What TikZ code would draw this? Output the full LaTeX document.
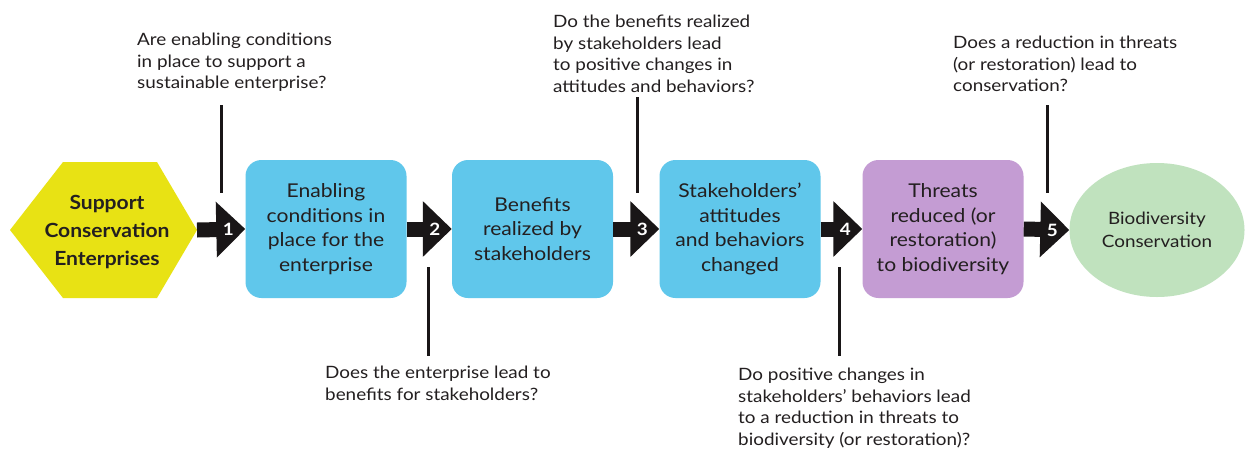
\documentclass[tikz,border=0pt]{standalone}
\usepackage{fontspec}
\setmainfont{Lato}[FakeStretch=1.11]
\newfontfamily\hexfont{Lato}[FakeStretch=1.08]
\usetikzlibrary{arrows.meta,shapes.geometric}
\definecolor{hexyellow}{RGB}{232,226,20}
\definecolor{boxblue}{RGB}{96,199,235}
\definecolor{boxpurple}{RGB}{196,156,211}
\definecolor{ellgreen}{RGB}{192,226,190}
\definecolor{txt}{RGB}{35,31,32}
\definecolor{arrowblack}{RGB}{25,22,23}
\tikzset{
  stagebox/.style={rectangle, rounded corners=16pt, minimum width=161pt, minimum height=138pt,
    align=center, inner sep=0pt, text=txt, font=\fontsize{19}{24.5}\selectfont},
  question/.style={anchor=north west, align=left, inner sep=0pt, text=txt,
    font=\fontsize{17}{21.8}\selectfont},
  flowarrow/.style={arrowblack, line width=15pt, -{Triangle[width=54pt,length=29pt]}},
  num/.style={text=white, inner sep=0pt, font=\bfseries\fontsize{17}{17}\selectfont},
  pole/.style={arrowblack, line width=3pt},
}
\begin{document}
\begin{tikzpicture}[x=1pt,y=-1pt]
\useasboundingbox[fill=white] (0,0) rectangle (1247,451);

% hexagon
\fill[hexyellow] (10,230) -- (63,162) -- (157,162) -- (197,230) -- (157,298) -- (63,298) -- cycle;
\node[align=center, inner sep=0pt, text=txt, font=\hexfont\bfseries\fontsize{19.5}{28}\selectfont] (hex) at (107,232)
  {Support\\Conservation\\Enterprises};
\coordinate (hexE) at (197,230);

% stage boxes
\node[stagebox, fill=boxblue] (b1) at (326,229) {Enabling\\conditions in\\place for the\\enterprise};
\node[stagebox, fill=boxblue] (b2) at (532.5,229) {Benefits\\realized by\\stakeholders};
\node[stagebox, fill=boxblue] (b3) at (740,229) {Stakeholders’\\attitudes\\and behaviors\\changed};
\node[stagebox, fill=boxpurple] (b4) at (943,229) {Threats\\reduced (or\\restoration)\\to biodiversity};
\node[ellipse, fill=ellgreen, minimum width=175pt, minimum height=134pt, inner sep=0pt,
  align=center, text=txt, font=\fontsize{17}{23}\selectfont] (bio) at (1157,230)
  {Biodiversity\\Conservation};

% arrows
\draw[flowarrow] (hexE) -- (b1.west) node[num, xshift=-17pt] {1};
\draw[flowarrow] (b1.east) -- (b2.west) node[num, xshift=-17pt] {2};
\draw[flowarrow] (b2.east) -- (b3.west) node[num, xshift=-17pt] {3};
\draw[flowarrow] (b3.east) -- (b4.west) node[num, xshift=-17pt] {4};
\draw[flowarrow] (b4.east) -- (bio.west) node[num, xshift=-17pt] {5};

% questions
\node[question] (q1) at (137,32.5) {Are enabling conditions\\in place to support a\\sustainable enterprise?};
\node[question] (q2) at (325,365.5) {Does the enterprise lead to\\benefits for stakeholders?};
\node[question] (q3) at (553,14.5) {Do the benefits realized\\by stakeholders lead\\to positive changes in\\attitudes and behaviors?};
\node[question] (q4) at (738,367.5) {Do positive changes in\\stakeholders’ behaviors lead\\to a reduction in threats to\\biodiversity (or restoration)?};
\node[question] (q5) at (953,35.5) {Does a reduction in threats\\(or restoration) lead to\\conservation?};

% poles
\coordinate (p1a) at (221,105); \coordinate (p1b) at (221,193);
\coordinate (p2a) at (428,267); \coordinate (p2b) at (428,356);
\coordinate (p3a) at (637,97);  \coordinate (p3b) at (637,193);
\coordinate (p4a) at (839,267); \coordinate (p4b) at (839,356);
\coordinate (p5a) at (1047,105); \coordinate (p5b) at (1047,193);
\draw[pole] (p1a) -- (p1b);
\draw[pole] (p2a) -- (p2b);
\draw[pole] (p3a) -- (p3b);
\draw[pole] (p4a) -- (p4b);
\draw[pole] (p5a) -- (p5b);
\end{tikzpicture}
\end{document}
